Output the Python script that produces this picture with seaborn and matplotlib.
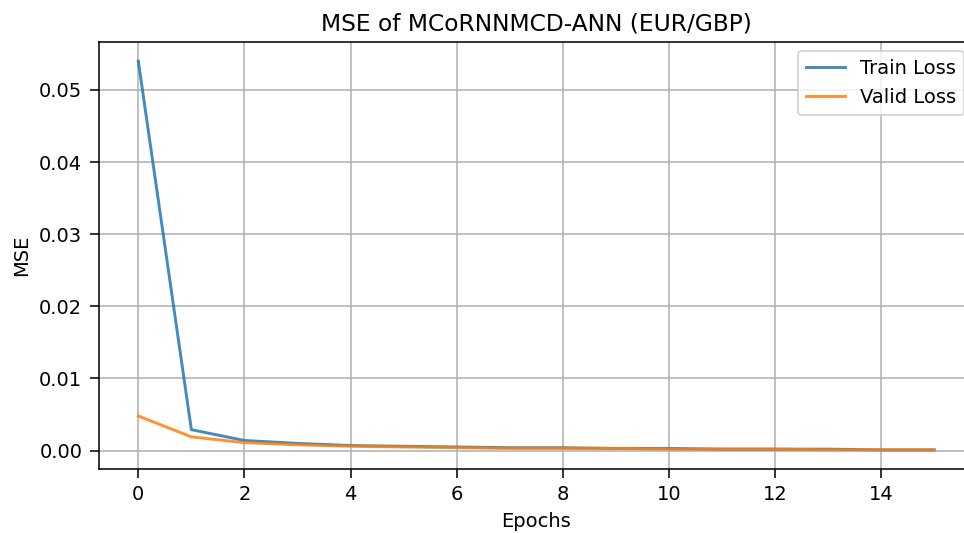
import matplotlib
matplotlib.use("Agg")
import matplotlib.pyplot as plt
import seaborn as sns
import pandas as pd

epochs = list(range(16))
train_loss = [0.0540, 0.0029, 0.0014, 0.0010, 0.0007, 0.0006, 0.0005, 0.0004,
              0.0004, 0.0003, 0.0003, 0.0002, 0.0002, 0.0002, 0.0001, 0.0001]
valid_loss = [0.0048, 0.0019, 0.0011, 0.0008, 0.0006, 0.0005, 0.0004, 0.0003,
              0.0003, 0.0003, 0.0002, 0.0002, 0.0002, 0.0001, 0.0001, 0.0001]

df = pd.DataFrame({"Epoch": epochs * 2,
                   "MSE": train_loss + valid_loss,
                   "Series": ["Train Loss"] * 16 + ["Valid Loss"] * 16})

plt.rcParams['font.family'] = ['DejaVu Sans']
DPI = 140
fig = plt.figure(figsize=(964 / DPI, 533 / DPI), dpi=DPI)
ax = fig.add_axes([98.5/964, 1-469.3/533, (974-98.5)/964, (469.3-41.7)/533])
sns.lineplot(data=df, x="Epoch", y="MSE", hue="Series",
             palette=["#1f77b4", "#ff7f0e"], linewidth=1.5, alpha=0.85, ax=ax)
ax.grid(True, color="#b0b0b0", linewidth=0.8)
ax.spines["right"].set_visible(False)
ax.set_title("MSE of MCoRNNMCD-ANN (EUR/GBP)", fontsize=12)
ax.set_xlabel("Epochs", fontsize=10)
ax.set_ylabel("MSE", fontsize=10)
ax.tick_params(labelsize=10, length=4.5, pad=3.8)
ax.set_xticks([0, 2, 4, 6, 8, 10, 12, 14])
ax.legend(title=None, loc="upper right", fontsize=10)
fig.savefig("out.png", dpi=DPI)
